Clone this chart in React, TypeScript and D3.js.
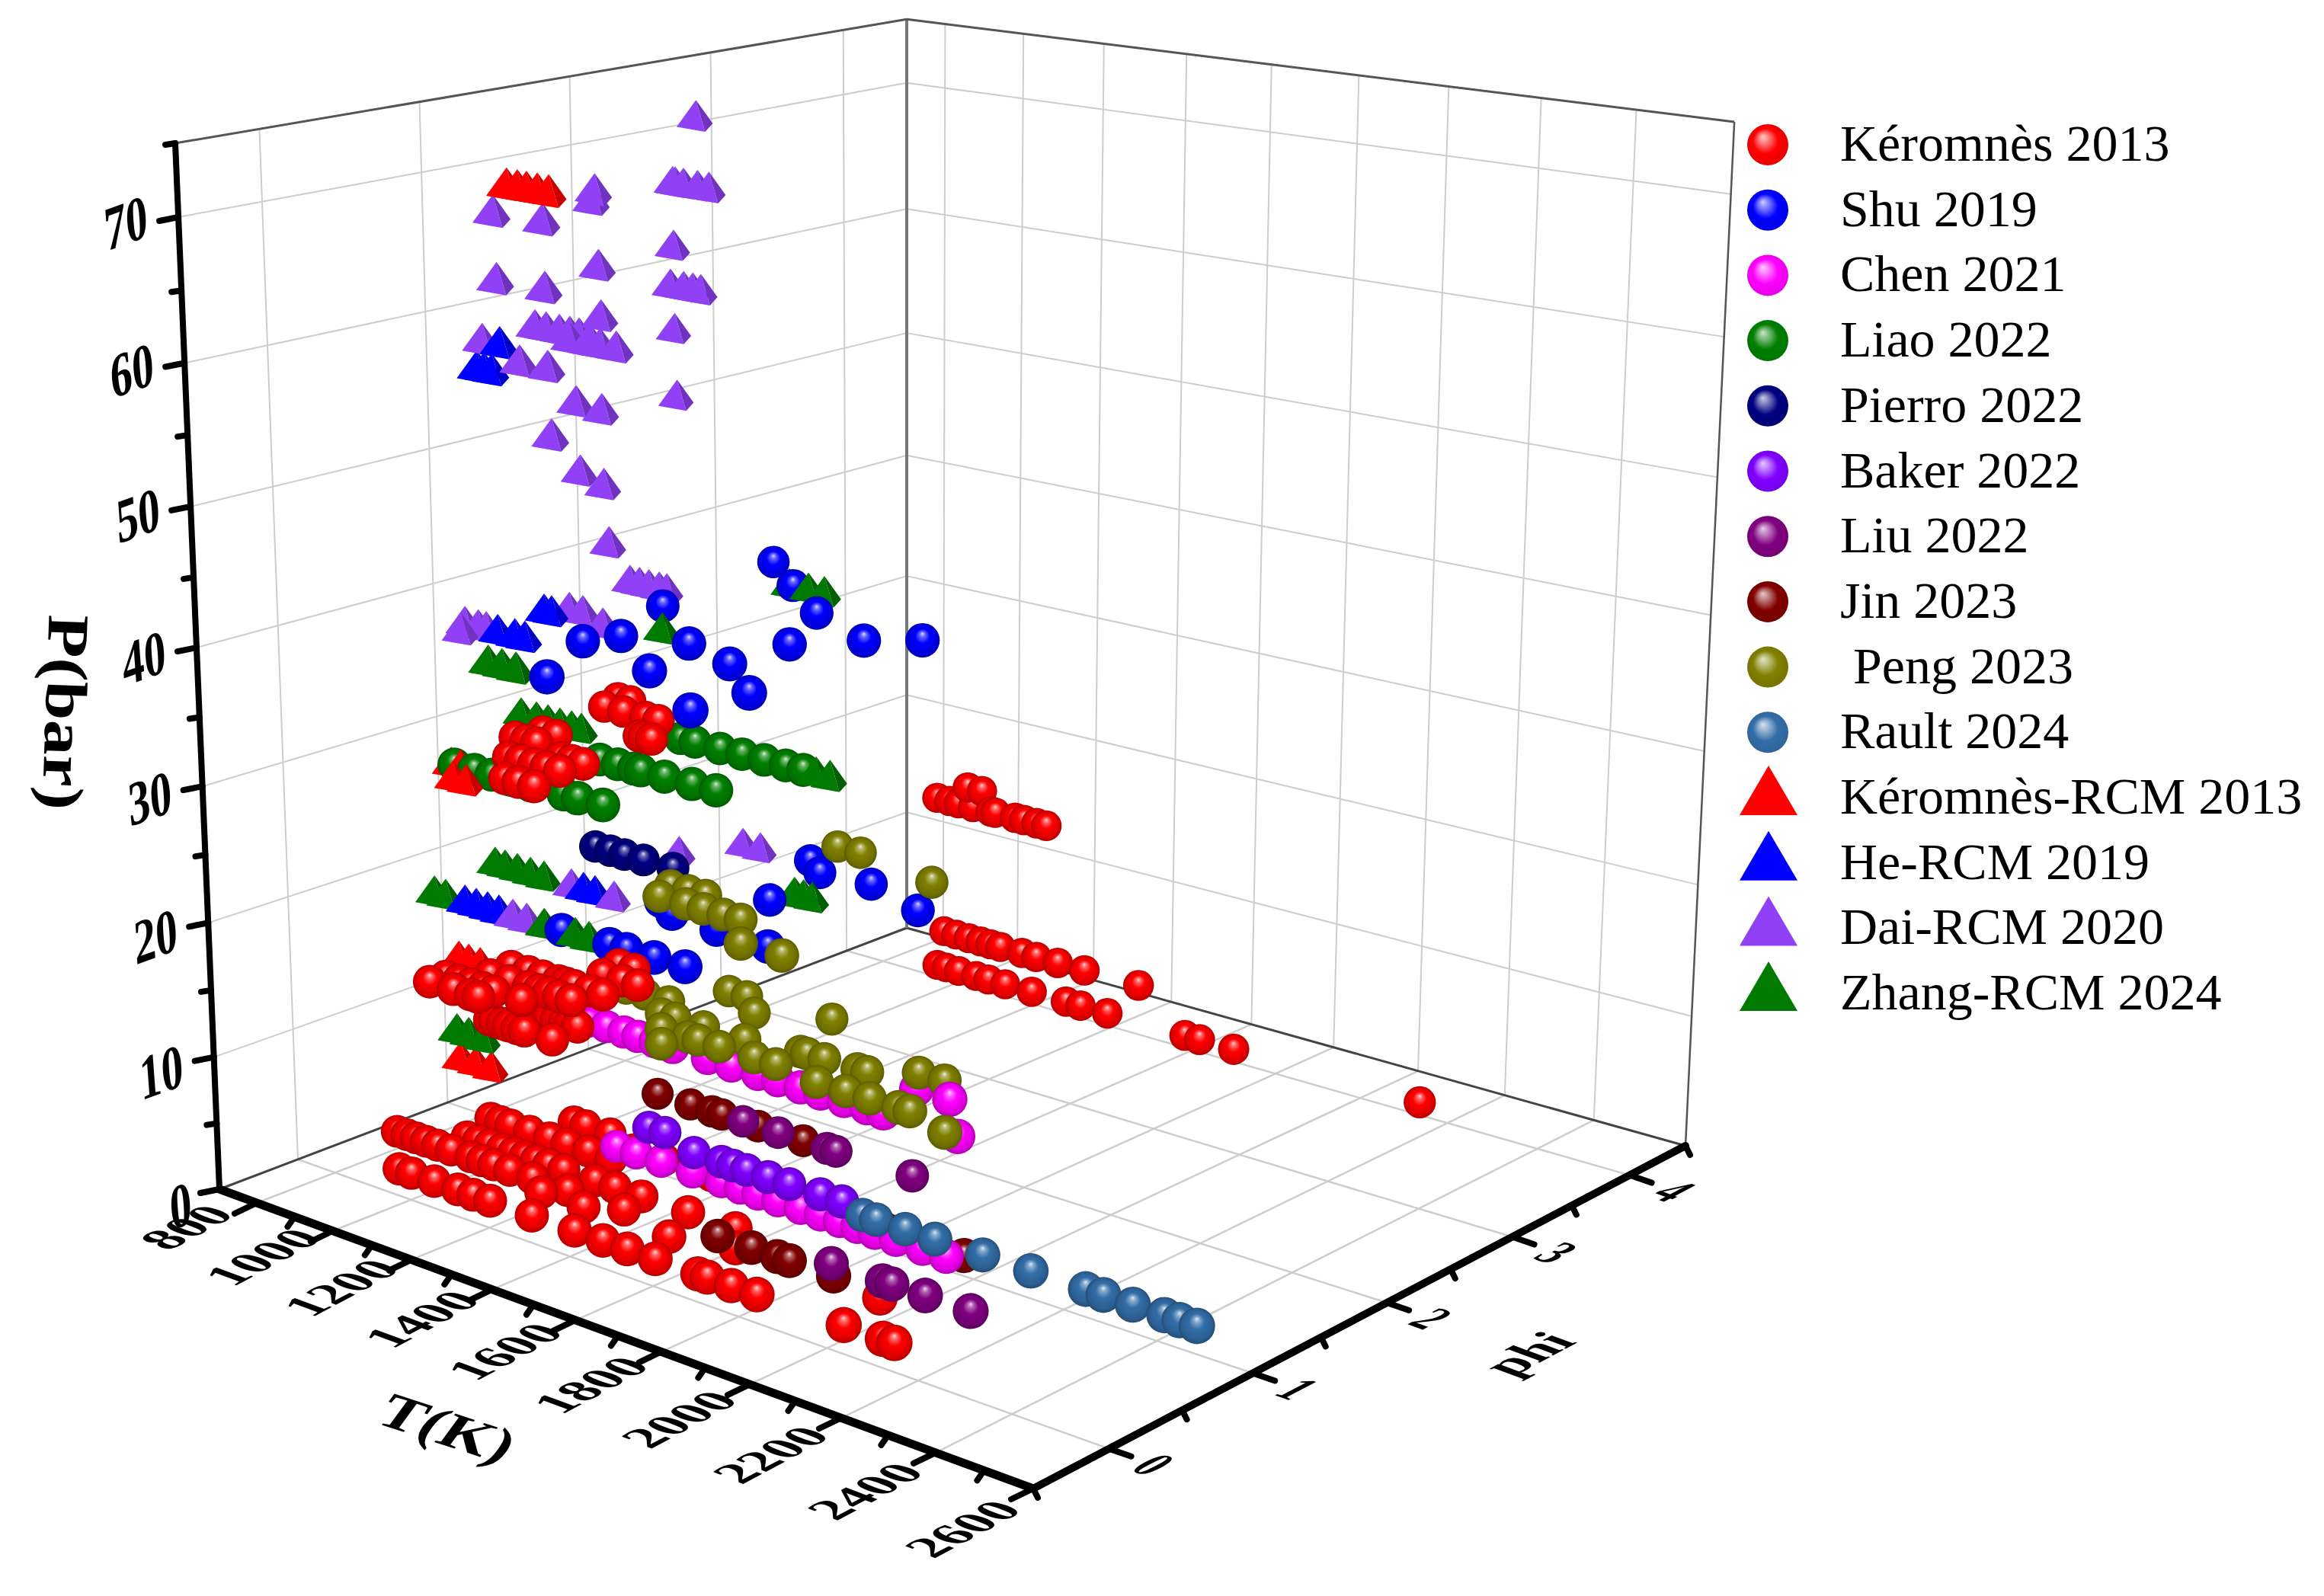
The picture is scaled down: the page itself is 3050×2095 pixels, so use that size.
import * as d3 from 'd3';

type Row = [number, number, number[]]; // phi, P(bar), temperatures

// values, grouped by phi and pressure
const keromnes: Row[] = [
  [0.12, 1, [922, 954, 1013, 1074, 1113, 1156, 1261, 1367, 1436, 1495, 1562, 1663, 1685, 1741, 1800, 1997, 2084, 2109]],
  [0.45, 1, [784, 810, 834, 861, 891, 927, 979, 1008, 1038, 1079, 1137, 1226, 1366, 1635, 1968]],
  [0.62, 1, [902, 932, 962, 994, 1024, 1053, 1082, 1114, 1152, 1231, 1281, 1347, 1461, 1575]],
  [0.35, 1, [1197, 1303, 1512]],
  [0.87, 1, [867, 893, 920, 969, 1021, 1066, 1121, 1179]],
  [1.1, 1, [998, 1028, 1092]],
  [1, 1.2, [1190, 1265, 1384, 1487, 1722]],
  [0.25, 15, [964, 1025, 1069, 1088]],
  [0.35, 15, [966, 999, 1030, 1060, 1088, 1158]],
  [0.5, 15, [1021, 1070, 1119, 1145, 1169, 1195, 1226]],
  [0.65, 15, [1017, 1060, 1097, 1137, 1155, 1176, 1215, 1248]],
  [0.85, 15, [1174, 1223, 1261]],
  [1, 15, [1159, 1197]],
  [0.45, 12, [1037, 1050, 1069, 1085, 1107, 1125, 1195]],
  [0.65, 12, [1091, 1110, 1130, 1150, 1165, 1183]],
  [1, 30, [905, 934, 960]],
  [1.15, 30, [919, 954]],
  [0.75, 30, [985, 1015, 1049, 1080, 1114]],
  [0.9, 30, [1060, 1087, 1116]],
  [0.5, 30, [1072, 1105, 1144]],
  [1.65, 30, [891, 940, 997, 1030]],
  [1.8, 30, [871, 903]],
  [1.4, 30, [1072, 1085, 1103]],
  [4, 1, [946, 970, 1003, 1049, 1081, 1125, 1194, 1282, 1319, 1387, 1580, 1616, 1699, 2136]],
  [4, 4, [964, 996, 1029, 1060, 1086, 1112, 1168, 1205, 1260, 1328, 1464]],
  [4, 15, [945, 977, 1001, 1039, 1097, 1085, 1148, 1171, 1203, 1228]],
  [4, 16.5, [1025, 1062]],
];
const shu: Row[] = [
  [0.2, 40, [1297]], [2.37, 40, [1070]], [2.1, 40, [1212]], [1.8, 40, [1372]], [1.42, 40, [1129]],
  [0.73, 40, [1185]], [0.91, 40, [1212]], [1.02, 40, [1337]], [1.31, 40, [1475]], [1.58, 40, [1558]],
  [0.57, 40, [1405]], [0.89, 40, [1480]], [0.6, 40, [1627]], [0.23, 40, [1623]], [1.76, 40, [1635]],
  [0.5, 20, [1205, 1323, 1364, 1431, 1505]],
  [1.1, 20, [1230]], [1, 20, [1294]], [0.97, 20, [1413]], [1.45, 20, [1374]], [0.95, 20, [1543]],
  [2.02, 20, [1278]], [1.91, 20, [1339]], [1.94, 20, [1454]], [1.79, 20, [1615]],
];
const chen: Row[] = [
  [1, 1, [1145, 1195, 1258, 1336, 1408, 1454, 1497, 1545, 1599, 1647, 1692, 1733, 1774, 1823, 1884, 1938]],
  [1, 10, [1080, 1125, 1169, 1204, 1247, 1291, 1377, 1435, 1499, 1547, 1601, 1648, 1703, 1756, 1794, 1963]],
  [1, 12.5, [1870, 1945]],
];
const liao: Row[] = [
  [0.5, 30, [943, 993, 1038, 1086, 1135, 1218, 1252, 1313]],
  [1, 30, [1120, 1165, 1205, 1222, 1280, 1347, 1405]],
  [1.5, 30, [1140, 1176, 1238, 1292, 1346, 1398, 1440]],
];
const pierro: Row[] = [[1.5, 20, [917, 956, 992, 1041, 1116]]];
const baker: Row[] = [
  [1, 2.5, [1340, 1408, 1436, 1469, 1521, 1572, 1646, 1697]],
  [1, 3.3, [1228, 1268]],
];
const liu: Row[] = [
  [0.6, 1, [1807, 1924, 1945, 2020, 2121]],
  [1.64, 1, [1236, 1324, 1445, 1467, 1651]],
];
const jin: Row[] = [
  [1, 1.5, [1454, 1536, 1586, 1650, 1697, 1797, 1978]],
  [0.5, 1, [1575, 1655, 1716, 1744, 1846]],
  [1.64, 1, [1017, 1102, 1157, 1182, 1274, 1386]],
];
const peng: Row[] = [
  [2.27, 20, [1261, 1318]], [2.15, 20, [1531]], [1.3, 20, [1182, 1226, 1269]],
  [1.15, 20, [1208, 1274, 1317, 1366, 1408]], [0.9, 20, [1496, 1593]],
  [1.45, 10, [1010, 1059, 1119]], [1.3, 10, [1154, 1189, 1260, 1362]],
  [1.15, 10, [1208, 1275, 1300, 1352, 1438, 1490]], [1, 10, [1263, 1934]],
  [1.35, 10, [1481, 1496, 1538, 1617, 1640]], [1.1, 10, [1605, 1673, 1729, 1796, 1822]],
  [1.5, 10, [1712, 1772]], [1.78, 10, [1411]], [1.75, 10, [1165, 1210]], [1.6, 10, [1281]],
];
const rault: Row[] = [[1, 2, [1745, 1777, 1844, 1912, 2020, 2127, 2247, 2285, 2348, 2415, 2447, 2483]]];

const keromnesRcm: Row[] = [
  [0.25, 10, [1039, 1078, 1117]], [0.25, 17.5, [1041, 1066, 1095]],
  [0.5, 30, [935, 960]], [0.35, 30, [1000, 1032]],
  [0.5, 72, [1110, 1136, 1158, 1184, 1211]],
];
const heRcm: Row[] = [
  [0.5, 59, [1026, 1044, 1063]], [0.5, 61, [1084]], [0.6, 40, [1023, 1066, 1091]],
  [1, 40, [987, 1006]], [0.5, 20, [961, 990, 1019, 1048]], [1, 20, [1073, 1102]],
];
const daiRcm: Row[] = [
  [2, 73.4, [1018]], [2, 68.4, [958, 964, 985, 1020, 1048]], [2, 63.8, [958]],
  [2, 60.9, [949, 982, 1005, 1025]], [2, 57.7, [958]], [2, 52.8, [962]],
  [1, 70.7, [1133]], [1, 70, [1127]], [1, 65.5, [1139]], [1, 62, [1143]], [1, 55.4, [1141]],
  [1, 50.1, [1143]], [1, 46, [1153]], [1, 55.6, [1078]], [1, 50.7, [1085]],
  [1, 60, [1066, 1109, 1120, 1140, 1179]], [1.1, 60, [941, 969, 1002, 1028, 1051]],
  [0.5, 70, [1075, 1195]], [0.5, 65.4, [1080, 1197]], [0.5, 61, [1041]], [0.5, 60, [1132, 1200]], [0.5, 55.3, [1206]],
  [1.65, 40, [963, 987, 1011, 1037, 1056]], [0.6, 40, [940, 974, 994]], [0.5, 40, [970]],
  [1.1, 40, [1013, 1047]], [1, 40, [1134]],
  [0.5, 20, [1083, 1118]], [1, 20, [1042, 1150]], [2, 20, [1116, 1160]], [1.7, 20, [1060]],
];
const zhangRcm: Row[] = [
  [2.1, 40, [1203, 1250, 1289]], [1.12, 40, [1237]], [0.2, 40, [1154, 1188, 1222]],
  [1.3, 30, [806, 846, 876, 907, 937, 962]], [1.5, 30, [1471, 1504]],
  [1, 20, [845, 871, 903, 937, 972]], [0.5, 20, [882, 911, 1162, 1239, 1273]],
  [1.6, 20, [1383, 1405, 1426]], [0.25, 12, [1031, 1061, 1099]],
];

const balls = [
  { name: 'Kéromnès 2013', color: '#ff0000', rows: keromnes },
  { name: 'Shu 2019', color: '#0000ff', rows: shu },
  { name: 'Chen 2021', color: '#ff00ff', rows: chen },
  { name: 'Liao 2022', color: '#008000', rows: liao },
  { name: 'Pierro 2022', color: '#000080', rows: pierro },
  { name: 'Baker 2022', color: '#8000ff', rows: baker },
  { name: 'Liu 2022', color: '#800080', rows: liu },
  { name: 'Jin 2023', color: '#800000', rows: jin },
  { name: ' Peng 2023', color: '#808000', rows: peng },
  { name: 'Rault 2024', color: '#336ea8', rows: rault },
];
const cones = [
  { name: 'Kéromnès-RCM 2013', color: '#ff0000', rows: keromnesRcm },
  { name: 'He-RCM 2019', color: '#0000ff', rows: heRcm },
  { name: 'Dai-RCM 2020', color: '#9040f5', rows: daiRcm },
  { name: 'Zhang-RCM 2024', color: '#007a00', rows: zhangRcm },
];

const tMajor = [800, 1000, 1200, 1400, 1600, 1800, 2000, 2200, 2400, 2600];
const tMinor = [900, 1100, 1300, 1500, 1700, 1900, 2100, 2300, 2500];
const phiMajor = [0, 1, 2, 3, 4];
const phiMinor = [-0.5, 0.5, 1.5, 2.5, 3.5, 4.5];
const pMajor = [0, 10, 20, 30, 40, 50, 60, 70];
const pMinor = [5, 15, 25, 35, 45, 55, 65, 75];

const T_RANGE = [700, 2600];
const PHI_RANGE = [-0.5, 4.5];
const P_RANGE = [0, 75];

const scaleT = d3.scaleLinear().domain(T_RANGE).range([0, 1]);
const scalePhi = d3.scaleLinear().domain(PHI_RANGE).range([0, 1]);
const scaleP = d3.scaleLinear().domain(P_RANGE).range([0, 1]);

// cube corners on the page, the perspective is solved from them
const O = [288, 1561], U = [1356, 1954], V = [1190, 1218], UV = [2212, 1504], W = [230, 188], VW = [1190, 29];

const det = (a: number[], b: number[]) => a[0] * b[1] - a[1] * b[0];
const dx1 = [U[0] - UV[0], U[1] - UV[1]];
const dx2 = [V[0] - UV[0], V[1] - UV[1]];
const sum = [O[0] - U[0] + UV[0] - V[0], O[1] - U[1] + UV[1] - V[1]];
const gU = det(sum, dx2) / det(dx1, dx2);
const gV = det(dx1, sum) / det(dx1, dx2);
const gW = ((VW[0] - V[0]) * (1 + gV) - W[0] + O[0]) / (W[0] - VW[0]);
const nx = [O[0], U[0] * (1 + gU) - O[0], V[0] * (1 + gV) - O[0], W[0] * (1 + gW) - O[0]];
const ny = [O[1], U[1] * (1 + gU) - O[1], V[1] * (1 + gV) - O[1], W[1] * (1 + gW) - O[1]];

function project(T: number, phi: number, P: number) {
  const u = scaleT(T), v = scalePhi(phi), w = scaleP(P);
  const d = 1 + gU * u + gV * v + gW * w;
  return {
    x: (nx[0] + nx[1] * u + nx[2] * v + nx[3] * w) / d,
    y: (ny[0] + ny[1] * u + ny[2] * v + ny[3] * w) / d,
    d,
  };
}

const lineGen = d3.line();
const seg = (a: any, b: any) => lineGen([[a.x, a.y], [b.x, b.y]]) as string;
const [T0, T1] = T_RANGE;
const [F0, F1] = PHI_RANGE;
const [P0, P1] = P_RANGE;

// the original's spheres cut through each other, a small nudge of the paint order gets close
function paintBias(kind: string, id: number, P: number) {
  if (kind !== 'ball') return 0;
  if (id === 0) return P < 2 ? 0.03 : -0.04; // red: under magenta on the floor, on top of green higher up
  if (id === 7 && P < 2) return 0.015;
  if (id === 5 || id === 8 || id === 9) return -0.03; // Baker, Peng, Rault over Chen
  return 0;
}

const flatten = (rows: Row[], kind: string, id: number) =>
  rows.flatMap(([phi, P, temps]) => temps.map(T => {
    const p = project(T, phi, P);
    return { ...p, kind, id, order: p.d + paintBias(kind, id, P) };
  }));

const marks = [
  ...balls.flatMap((s, i) => flatten(s.rows, 'ball', i)),
  ...cones.flatMap((s, i) => flatten(s.rows, 'cone', i)),
].sort((a, b) => b.order - a.order);

const mix = (c: string, t: number) => d3.interpolateRgb(c, '#ffffff')(t);

function Cone({ x, y, d, color }: any) {
  const s = 1.1 / d;
  const left = lineGen([[x, y - 20 * s], [x - 23 * s, y + 12 * s], [x + 11 * s, y + 18 * s]]) + 'Z';
  const right = lineGen([[x, y - 20 * s], [x + 11 * s, y + 18 * s], [x + 20 * s, y + 8 * s]]) + 'Z';
  return (
    <g>
      <path d={left} fill={color} />
      <path d={right} fill={d3.rgb(color).darker(0.7).formatHex()} />
    </g>
  );
}

const serif = '"Liberation Serif", "Times New Roman", serif';

export default function App() {
  const gridColor = '#cdcdcd';
  return (
    <svg width={3050} height={2095} style={{ position: 'absolute', left: 0, top: 0, background: '#fff' }} fontFamily={serif}>
      <defs>
        {balls.map((s, i) => (
          <radialGradient key={i} id={`ball${i}`} cx=".5" cy=".5" r=".5" fx=".5" fy=".3">
            <stop offset="0" stopColor={mix(s.color, 0.85)} />
            <stop offset=".16" stopColor={mix(s.color, 0.4)} />
            <stop offset=".42" stopColor={s.color} />
            <stop offset=".82" stopColor={d3.rgb(s.color).darker(0.4).formatHex()} />
            <stop offset="1" stopColor={d3.rgb(s.color).darker(1).formatHex()} />
          </radialGradient>
        ))}
        {balls.map((s, i) => (
          <radialGradient key={i} id={`key${i}`} cx=".5" cy=".5" r=".55" fx=".38" fy=".3">
            <stop offset="0" stopColor={mix(s.color, 0.8)} />
            <stop offset=".25" stopColor={mix(s.color, 0.45)} />
            <stop offset=".55" stopColor={s.color} />
            <stop offset="1" stopColor={d3.rgb(s.color).darker(0.3).formatHex()} />
          </radialGradient>
        ))}
      </defs>

      {/* floor grid */}
      <g stroke={gridColor} strokeWidth={2.5} fill="none">
        {phiMajor.map(f => <path key={f} d={seg(project(T0, f, P0), project(T1, f, P0))} />)}
        {tMajor.slice(0, -1).map(t => <path key={t} d={seg(project(t, F0, P0), project(t, F1, P0))} />)}
      </g>
      {/* walls */}
      <g stroke={gridColor} strokeWidth={2} fill="none">
        {phiMajor.map(f => <path key={f} d={seg(project(T0, f, P0), project(T0, f, P1))} />)}
        {pMajor.slice(1).map(p => <path key={p} d={seg(project(T0, F0, p), project(T0, F1, p))} />)}
        {tMajor.slice(0, -1).map(t => <path key={t} d={seg(project(t, F1, P0), project(t, F1, P1))} />)}
        {pMajor.slice(1).map(p => <path key={p} d={seg(project(T0, F1, p), project(T1, F1, p))} />)}
      </g>
      {/* frame */}
      <g fill="none">
        <path d={seg(project(T0, F0, P0), project(T0, F1, P0))} stroke="#444" strokeWidth={3} />
        <path d={seg(project(T0, F1, P0), project(T1, F1, P0))} stroke="#444" strokeWidth={3} />
        <path d={seg(project(T0, F1, P0), project(T0, F1, P1))} stroke="#777" strokeWidth={4} />
        <path d={seg(project(T1, F1, P0), project(T1, F1, P1))} stroke="#555" strokeWidth={2.5} />
        <path d={seg(project(T0, F0, P1), project(T0, F1, P1))} stroke="#555" strokeWidth={3} />
        <path d={seg(project(T0, F1, P1), project(T1, F1, P1))} stroke="#555" strokeWidth={3} />
      </g>

      {/* thick axes and ticks */}
      <g stroke="#000" fill="none" strokeLinecap="round">
        <path d={seg(project(T0, F0, P0), project(T0, F0, P1))} strokeWidth={8} />
        <path d={seg(project(T0, F0, P0), project(T1, F0, P0))} strokeWidth={11} />
        <path d={seg(project(T1, F0, P0), project(T1, F1, P0))} strokeWidth={10} />
        {tMajor.map(t => {
          const b = project(t, F0, P0);
          return <line key={t} x1={b.x} y1={b.y} x2={b.x - 29} y2={b.y + 14} strokeWidth={8} />;
        })}
        {tMinor.map(t => {
          const b = project(t, F0, P0);
          return <line key={t} x1={b.x} y1={b.y} x2={b.x - 9} y2={b.y + 13} strokeWidth={8} />;
        })}
        {phiMajor.map(f => {
          const b = project(T1, f, P0);
          return <line key={f} x1={b.x} y1={b.y} x2={b.x + 29} y2={b.y + 10} strokeWidth={8} />;
        })}
        {phiMinor.map(f => {
          const b = project(T1, f, P0);
          return <line key={f} x1={b.x} y1={b.y} x2={b.x + 6} y2={b.y + 12} strokeWidth={8} />;
        })}
        {pMajor.map(p => {
          const b = project(T0, F0, p);
          return <line key={p} x1={b.x} y1={b.y} x2={b.x - 25} y2={b.y + 5} strokeWidth={8} />;
        })}
        {pMinor.map(p => {
          const b = project(T0, F0, p);
          return <line key={p} x1={b.x} y1={b.y} x2={b.x - 13} y2={b.y + 2} strokeWidth={8} />;
        })}
      </g>

      {/* tick labels lie in the planes of the box */}
      <g fontWeight="bold" fontSize={60} textAnchor="middle" fill="#000">
        {tMajor.map(t => {
          const b = project(t, F0, P0);
          const e = scaleT(t);
          return (
            <text key={t} dy=".33em" transform={`matrix(1.0,-0.53,1.05,0.39,${b.x - 92},${b.y + 31 + 22 * e})`}>{t}</text>
          );
        })}
        {phiMajor.map(f => {
          const b = project(T1, f, P0);
          return (
            <text key={f} dy=".33em" transform={`matrix(0.8,0.29,-1.05,0.55,${b.x + 58},${b.y + 21})`}>{f}</text>
          );
        })}
        {pMajor.map(p => {
          const b = project(T0, F0, p);
          const ox = p === 0 ? -51 : -69;
          return (
            <text key={p} dy=".33em" transform={`matrix(0.94,-0.34,0.1,1.36,${b.x + ox},${b.y + 22 - 0.2 * p})`}>{p}</text>
          );
        })}
      </g>

      {/* axis titles */}
      <g fontWeight="bold" fill="#000" textAnchor="middle">
        <text fontSize={77} dy=".26em" transform="translate(80,935) rotate(92) scale(1.2,1)">P(bar)</text>
        <text fontSize={76} dy=".33em" transform="matrix(1.05,0.34,-0.55,0.75,587,1875)">T(K)</text>
        <text fontSize={64} dy=".25em" transform="matrix(0.97,-0.52,1.03,0.38,2011,1779)">phi</text>
      </g>

      {/* markers, far ones first */}
      {marks.map((m, i) =>
        m.kind === 'ball'
          ? <circle key={i} cx={m.x} cy={m.y} r={22 / m.d} fill={`url(#ball${m.id})`} />
          : <Cone key={i} x={m.x} y={m.y} d={m.d} color={cones[m.id].color} />
      )}

      {/* legend */}
      <g>
        {balls.map((s, i) => {
          const y = 190 + 85.7 * i;
          return (
            <g key={s.name}>
              <circle cx={2320} cy={y} r={27} fill={`url(#key${i})`} />
              <text xmlSpace="preserve" x={2415} y={y + 21} fontSize={68} fill="#000">{s.name}</text>
            </g>
          );
        })}
        {cones.map((s, i) => {
          const y = 190 + 85.7 * (i + 10);
          const tri = lineGen([[2321, y - 42], [2359, y + 23], [2283, y + 23]]) + 'Z';
          return (
            <g key={s.name}>
              <path d={tri} fill={s.color} />
              <text x={2415} y={y + 21} fontSize={68} fill="#000">{s.name}</text>
            </g>
          );
        })}
      </g>
    </svg>
  );
}
